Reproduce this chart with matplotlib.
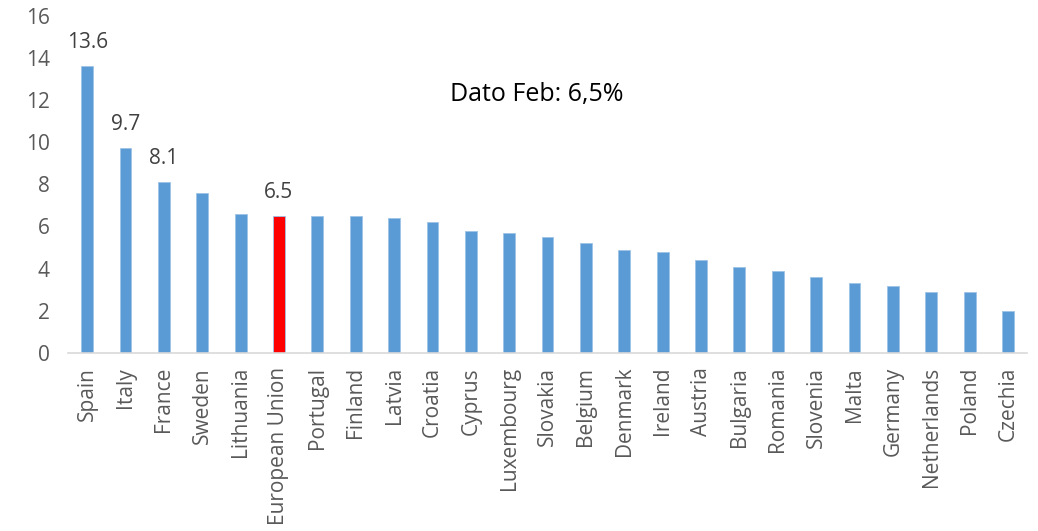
import numpy as np
import matplotlib.pyplot as plt

countries = ["Spain", "Italy", "France", "Sweden", "Lithuania", "European Union",
             "Portugal", "Finland", "Latvia", "Croatia", "Cyprus", "Luxembourg",
             "Slovakia", "Belgium", "Denmark", "Ireland", "Austria", "Bulgaria",
             "Romania", "Slovenia", "Malta", "Germany", "Netherlands", "Poland",
             "Czechia"]
values = [13.6, 9.7, 8.1, 7.6, 6.6, 6.5, 6.5, 6.5, 6.4, 6.2, 5.8, 5.7,
          5.5, 5.2, 4.9, 4.8, 4.4, 4.1, 3.9, 3.6, 3.3, 3.2, 2.9, 2.9, 2.0]
labelled = ["Spain", "Italy", "France", "European Union"]
highlight = "European Union"

plt.rcParams['font.family'] = ['Open Sans', 'DejaVu Sans']

fig = plt.figure(figsize=(10.38, 5.31), dpi=100)
ax = fig.add_axes([0.0655, 0.3352, 0.924, 0.6354])

x = np.arange(len(countries))
colors = ['#FF0000' if c == highlight else '#5B9BD5' for c in countries]
ax.bar(x, values, width=0.31, color=colors, edgecolor='#9DC3E6', linewidth=0.6)

for i, c in enumerate(countries):
    if c in labelled:
        ax.annotate(f"{values[i]:.1f}", (x[i], values[i]), xytext=(0, 17),
                    textcoords='offset points', ha='center', va='center',
                    fontsize=15, color='#404040')

ax.text(0.398, 0.765, "Dato Feb: 6,5%", transform=ax.transAxes, fontsize=18,
        color='black', ha='left', va='center')

ax.set_xlim(-0.5, len(countries) - 0.5)
ax.set_ylim(0, 16)
ax.set_yticks(np.arange(0, 17, 2))
ax.set_xticks(x)
ax.set_xticklabels(countries, rotation=90, fontsize=15, color='#595959')
ax.tick_params(axis='y', labelsize=15, labelcolor='#595959', length=0, pad=13)
ax.tick_params(axis='x', length=0, pad=10)
for s in ['top', 'right', 'left']:
    ax.spines[s].set_visible(False)
ax.spines['bottom'].set_color('#D9D9D9')
ax.spines['bottom'].set_linewidth(1.2)

fig.savefig("out.png", dpi=100)
